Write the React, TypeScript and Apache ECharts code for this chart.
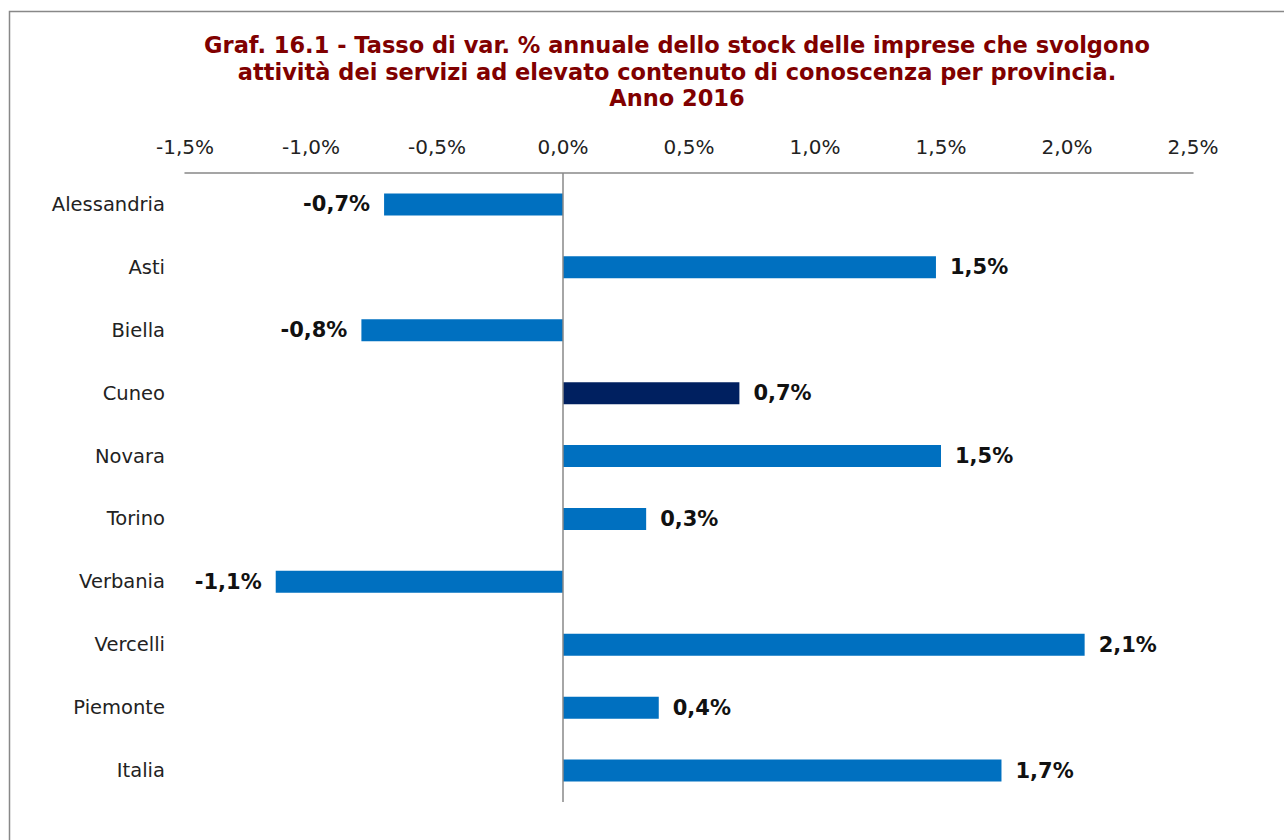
import React, { useEffect, useRef } from "react";
import * as echarts from "echarts";

const categories = ["Alessandria", "Asti", "Biella", "Cuneo", "Novara", "Torino", "Verbania", "Vercelli", "Piemonte", "Italia"];
const values = [-0.71, 1.48, -0.8, 0.7, 1.5, 0.33, -1.14, 2.07, 0.38, 1.74];
const highlighted = "Cuneo";
const titleLines = [
  "Graf. 16.1 - Tasso di var. % annuale dello stock delle imprese che svolgono",
  "attività dei servizi ad elevato contenuto di conoscenza per provincia.",
  "Anno 2016",
];

const fmt = (v: number) => v.toFixed(1).replace(".", ",") + "%";

export default function App() {
  const ref = useRef<HTMLDivElement>(null);
  useEffect(() => {
    document.body.style.margin = "0";
    const chart = echarts.init(ref.current!, null, { renderer: "svg" });
    const font = "'DejaVu Sans', Verdana, sans-serif";
    chart.setOption({
      animation: false,
      backgroundColor: "#fff",
      textStyle: { fontFamily: font },
      title: {
        text: titleLines.join("\n"),
        left: 672,
        top: 27,
        textAlign: "center",
        textStyle: { color: "#800000", fontSize: 22.5, fontWeight: "bold", lineHeight: 26.5, fontFamily: font },
      },
      graphic: [
        {
          type: "rect",
          shape: { x: 9.5, y: 11.5, width: 1400, height: 1000 },
          style: { fill: "none", stroke: "#888", lineWidth: 1.5 },
          silent: true,
        },
      ],
      grid: { left: 185, right: 91, top: 173, bottom: 38, containLabel: false },
      xAxis: {
        type: "value",
        position: "top",
        min: -1.5,
        max: 2.5,
        interval: 0.5,
        axisLine: { show: true, lineStyle: { color: "#888", width: 1.5 } },
        axisTick: { show: false },
        splitLine: { show: false },
        axisLabel: { color: "#222", fontSize: 20, margin: 16, formatter: (v: number) => fmt(v), fontFamily: font },
      },
      yAxis: {
        type: "category",
        data: categories,
        inverse: true,
        axisLine: { show: false },
        axisTick: { show: false },
        axisLabel: { color: "#222", fontSize: 19.5, margin: 20, fontFamily: font },
      },
      series: [
        {
          type: "bar",
          barWidth: 22,
          data: values.map((v, i) => ({
            value: v,
            itemStyle: { color: categories[i] === highlighted ? "#002060" : "#0070C0" },
            label: { position: v < 0 ? "left" : "right" },
          })),
          label: {
            show: true,
            distance: 14,
            color: "#111",
            fontSize: 21,
            fontWeight: "bold",
            fontFamily: font,
            formatter: (p: any) => fmt(p.value),
          },
          markLine: {
            silent: true,
            symbol: "none",
            label: { show: false },
            lineStyle: { color: "#888", type: "solid", width: 1.5 },
            data: [{ xAxis: 0 }],
          },
        },
      ],
    });
    return () => chart.dispose();
  }, []);
  return <div ref={ref} style={{ width: 1284, height: 840 }} />;
}
